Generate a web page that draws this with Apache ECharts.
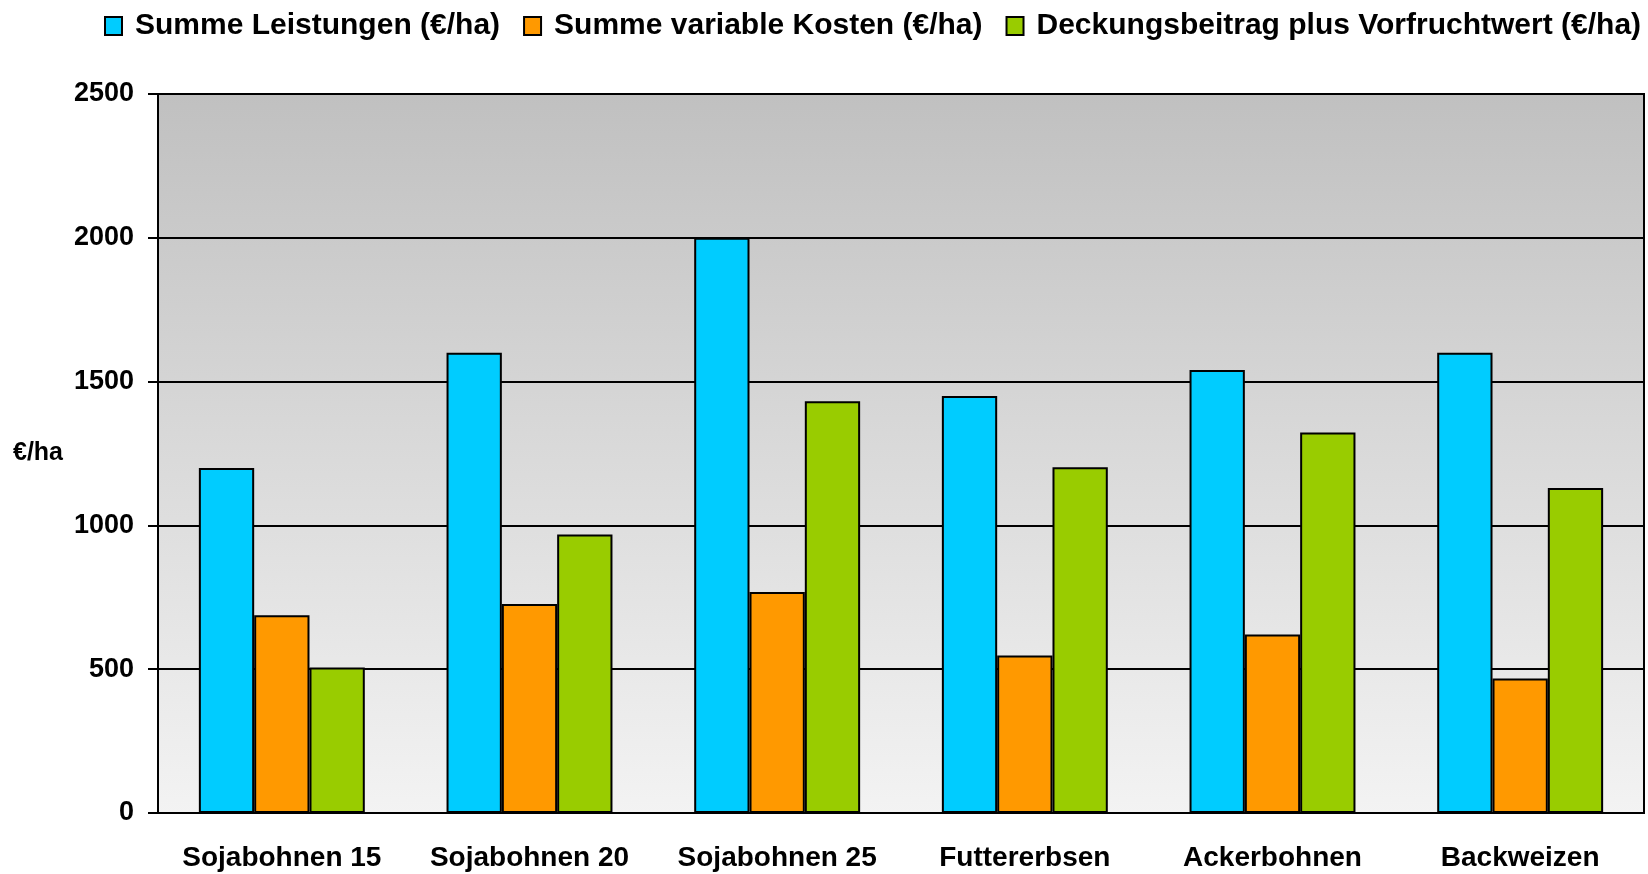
<!DOCTYPE html>
<html>
<head>
<meta charset="utf-8">
<script src="https://cdn.jsdelivr.net/npm/echarts@6/dist/echarts.min.js"></script>
<style>html,body{margin:0;padding:0;background:#fff;}#c{width:1648px;height:874px;}</style>
</head>
<body>
<div id="c"></div>
<script>
const categories = ['Sojabohnen 15', 'Sojabohnen 20', 'Sojabohnen 25', 'Futtererbsen', 'Ackerbohnen', 'Backweizen'];
const seriesNames = ['Summe Leistungen (€/ha)', 'Summe variable Kosten (€/ha)', 'Deckungsbeitrag plus Vorfruchtwert (€/ha)'];
const leistungen = [1200, 1600, 2000, 1450, 1540, 1600];
const variableKosten = [688, 727, 768, 548, 621, 468];
const deckungsbeitrag = [506, 968, 1432, 1202, 1323, 1130];
const yTicks = [0, 500, 1000, 1500, 2000, 2500];
const yAxisName = '€/ha';

const colors = ['#00ccff', '#ff9900', '#99cc00'];
const font = 'Liberation Sans, Arial, sans-serif';
const chart = echarts.init(document.getElementById('c'));
const values = [leistungen, variableKosten, deckungsbeitrag];
chart.setOption({
  animation: false,
  legend: {
    top: 6,
    left: 99,
    itemWidth: 17,
    itemHeight: 18,
    itemGap: 23,
    icon: 'rect',
    textStyle: {fontFamily: font, fontWeight: 'bold', fontSize: 30, color: '#000', padding: [0, 0, 0, 8]},
    data: seriesNames
  },
  grid: {
    left: 158, right: 4, top: 94, bottom: 61,
    show: true,
    borderColor: '#000', borderWidth: 2,
    backgroundColor: new echarts.graphic.LinearGradient(0, 0, 0, 1, [
      {offset: 0, color: '#c0c0c0'},
      {offset: 1, color: '#f3f3f3'}
    ])
  },
  xAxis: {
    type: 'category',
    data: categories,
    axisLine: {lineStyle: {color: '#000', width: 2}},
    axisTick: {show: false},
    axisLabel: {interval: 0, fontFamily: font, fontWeight: 'bold', fontSize: 28, color: '#000', margin: 31}
  },
  yAxis: {
    type: 'value',
    min: yTicks[0], max: yTicks[yTicks.length - 1], interval: 500,
    name: yAxisName,
    nameLocation: 'middle',
    nameRotate: 0,
    nameGap: 95,
    nameTextStyle: {fontFamily: font, fontWeight: 'bold', fontSize: 25, color: '#000'},
    axisLine: {show: true, lineStyle: {color: '#000', width: 2}},
    axisTick: {show: true, length: 10, lineStyle: {color: '#000', width: 2}},
    axisLabel: {fontFamily: font, fontWeight: 'bold', fontSize: 27, color: '#000', margin: 24, formatter: v => String(v)},
    splitLine: {show: true, lineStyle: {color: '#000', width: 1.8}}
  },
  series: seriesNames.map((n, i) => ({
    name: n,
    type: 'bar',
    data: values[i],
    barGap: '0%',
    barCategoryGap: '33%',
    itemStyle: {color: colors[i], borderColor: '#000', borderWidth: 2}
  }))
});
</script>
</body>
</html>
